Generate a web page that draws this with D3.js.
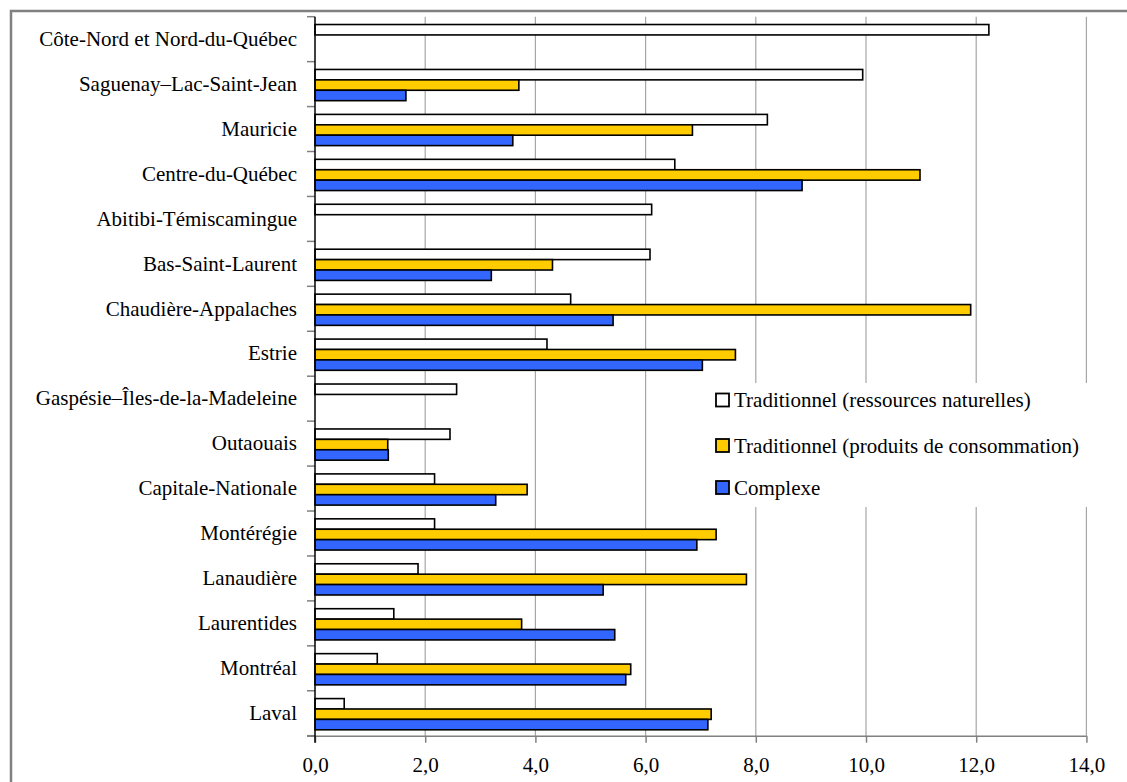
<!DOCTYPE html>
<html>
<head>
<meta charset="utf-8">
<script src="https://cdn.jsdelivr.net/npm/d3@7"></script>
<style>
  html, body { margin: 0; padding: 0; background: #fff; }
  svg { display: block; }
  text { font-family: "Liberation Serif", "Times New Roman", serif; fill: #000; }
</style>
</head>
<body>
<svg id="chart" width="1127" height="782"></svg>
<script>
const categories = ["Côte-Nord et Nord-du-Québec","Saguenay–Lac-Saint-Jean","Mauricie","Centre-du-Québec","Abitibi-Témiscamingue","Bas-Saint-Laurent","Chaudière-Appalaches","Estrie","Gaspésie–Îles-de-la-Madeleine","Outaouais","Capitale-Nationale","Montérégie","Lanaudière","Laurentides","Montréal","Laval"];
const seriesNames = ["Traditionnel (ressources naturelles)","Traditionnel (produits de consommation)","Complexe"];
const ressources   = [12.23, 9.94, 8.21, 6.53, 6.11, 6.08, 4.64, 4.21, 2.57, 2.45, 2.17, 2.17, 1.87, 1.43, 1.13, 0.53];
const consommation = [null, 3.70, 6.85, 10.98, null, 4.31, 11.90, 7.63, null, 1.32, 3.85, 7.28, 7.83, 3.75, 5.73, 7.19];
const complexe     = [null, 1.65, 3.59, 8.84, null, 3.20, 5.41, 7.03, null, 1.33, 3.28, 6.93, 5.23, 5.44, 5.64, 7.13];
const seriesColors = ["#FFFFFF", "#FFCC00", "#3366FF"];
const xTicks = [0, 2, 4, 6, 8, 10, 12, 14];

(function () {
const seriesValues = [ressources, consommation, complexe];
const svg = d3.select("#chart");

const pLeft = 315, pRight = 1086.4, pTop = 16.7, pBottom = 735.7;
const x = d3.scaleLinear().domain([0, 14]).range([pLeft, pRight]);
const y0 = d3.scaleBand().domain(categories).range([pTop, pBottom]).paddingInner(0).paddingOuter(0);
const y1 = d3.scaleBand().domain(d3.range(3)).range([0, y0.bandwidth()]).paddingInner(0).paddingOuter(0.66).align(0.57);

// outer frame (only top/left visible)
svg.append("rect").attr("x", 11).attr("y", 11).attr("width", 1200).attr("height", 900)
  .attr("fill", "none").attr("stroke", "#808080").attr("stroke-width", 2.5);

// gridlines
svg.append("g").selectAll("line").data(xTicks.filter(d => d > 0)).join("line")
  .attr("x1", d => x(d)).attr("x2", d => x(d)).attr("y1", pTop).attr("y2", pBottom)
  .attr("stroke", "#a6a6a6").attr("stroke-width", 1.2);

// bars
const groups = svg.append("g").selectAll("g").data(categories).join("g")
  .attr("transform", c => `translate(0,${y0(c)})`);
groups.selectAll("rect")
  .data((c, i) => seriesValues.map((arr, s) => ({ s, v: arr[i] })).filter(d => d.v != null))
  .join("rect")
  .attr("x", x(0))
  .attr("y", d => y1(d.s))
  .attr("width", d => x(d.v) - x(0))
  .attr("height", y1.bandwidth())
  .attr("fill", d => seriesColors[d.s])
  .attr("stroke", "#000").attr("stroke-width", 1.6);

// x axis
const xAxis = d3.axisBottom(x).tickValues(xTicks).tickSize(7).tickPadding(14)
  .tickFormat(d => d3.format(".1f")(d).replace(".", ","));
const gx = svg.append("g").attr("transform", `translate(0,${pBottom})`).call(xAxis);
gx.select(".domain").attr("stroke", "#808080").attr("stroke-width", 1.5)
  .attr("d", `M${pLeft - 8},0.5H${pRight}`);
gx.selectAll(".tick line").attr("stroke", "#808080").attr("stroke-width", 1.5);
gx.selectAll(".tick text").attr("font-size", 21).attr("font-family", '"Liberation Serif", "Times New Roman", serif');

// y axis
const yAxis = d3.axisLeft(y0).tickSize(0).tickPadding(18);
const gy = svg.append("g").attr("transform", `translate(${pLeft},0)`).call(yAxis);
gy.select(".domain").remove();
gy.selectAll(".tick text").attr("font-size", 21).attr("font-family", '"Liberation Serif", "Times New Roman", serif');
// boundary ticks
svg.append("g").selectAll("line").data(d3.range(categories.length + 1)).join("line")
  .attr("x1", pLeft - 8).attr("x2", pLeft)
  .attr("y1", i => pTop + i * y0.step()).attr("y2", i => pTop + i * y0.step())
  .attr("stroke", "#808080").attr("stroke-width", 1.5);
svg.append("line").attr("x1", pLeft).attr("x2", pLeft).attr("y1", pTop).attr("y2", pBottom + 7)
  .attr("stroke", "#000").attr("stroke-width", 1.5);

// legend
const lg = svg.append("g");
lg.append("rect").attr("x", 705).attr("y", 383).attr("width", 395).attr("height", 124).attr("fill", "#fff");
const legendY = [400, 445.5, 487.5];
seriesNames.forEach((name, i) => {
  lg.append("rect").attr("x", 716).attr("y", legendY[i] - 6.5).attr("width", 13).attr("height", 13)
    .attr("fill", seriesColors[i]).attr("stroke", "#000").attr("stroke-width", 1.8);
  lg.append("text").attr("x", 734).attr("y", legendY[i]).attr("dy", "0.35em")
    .attr("font-size", 21).text(name);
});
})();
</script>
</body>
</html>
